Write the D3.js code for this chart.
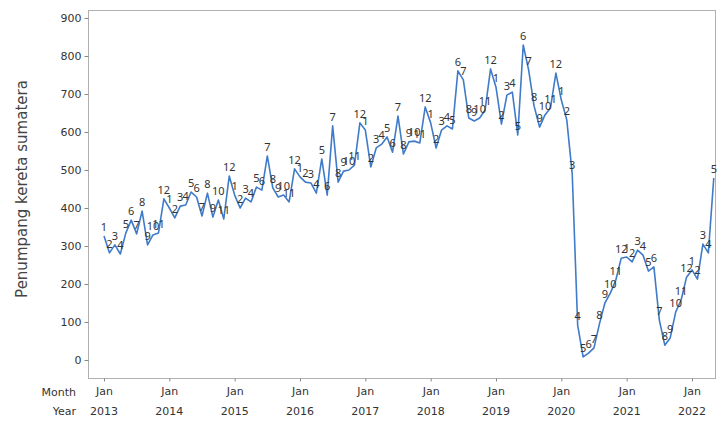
<!DOCTYPE html>
<html>
<head>
<meta charset="utf-8">
<script src="https://cdn.jsdelivr.net/npm/d3@7"></script>
<style>
  html, body { margin: 0; padding: 0; background: #fff; }
  svg { display: block; }
</style>
</head>
<body>
<svg id="chart" width="717" height="421"></svg>
<script>
// ---- data ----
const years = [2013, 2014, 2015, 2016, 2017, 2018, 2019, 2020, 2021, 2022];
const monthTick = "Jan";
const yTicks = [0, 100, 200, 300, 400, 500, 600, 700, 800, 900];
const values2013 = [326, 282, 303, 279, 334, 368, 332, 392, 303, 329, 334, 424];
const values2014 = [400, 374, 405, 408, 442, 429, 379, 439, 376, 421, 371, 484];
const values2015 = [434, 400, 426, 416, 455, 447, 537, 453, 429, 434, 416, 503];
const values2016 = [482, 468, 466, 439, 529, 434, 616, 468, 497, 500, 513, 624];
const values2017 = [605, 508, 558, 568, 587, 547, 642, 542, 574, 576, 571, 666];
const values2018 = [624, 558, 605, 616, 608, 761, 737, 637, 629, 637, 658, 766];
const values2019 = [718, 621, 697, 705, 592, 829, 763, 668, 613, 645, 663, 755];
const values2020 = [684, 632, 490, 92, 8, 18, 32, 95, 150, 176, 210, 268];
const values2021 = [271, 258, 289, 276, 234, 245, 105, 39, 58, 126, 158, 218];
const values2022 = [237, 213, 305, 282, 479];
const yTitle = "Penumpang kereta sumatera";

// ---- build series ----
const allValues = [].concat(values2013, values2014, values2015, values2016, values2017,
  values2018, values2019, values2020, values2021, values2022);
const data = allValues.map((v, i) => ({ i, month: (i % 12) + 1, v }));

const svg = d3.select("#chart");
const font = "'DejaVu Sans', sans-serif";
const labelFont = "'Noto Sans', sans-serif";

const box = { left: 88, top: 10, right: 716, bottom: 378 };
const x = d3.scaleLinear().domain([0, 108]).range([104, 692]);
const y = d3.scaleLinear().domain([0, 900]).range([360, 18]);

// frame
svg.append("rect")
  .attr("x", box.left + 0.5).attr("y", box.top + 0.5)
  .attr("width", box.right - box.left - 1).attr("height", box.bottom - box.top)
  .attr("fill", "none").attr("stroke", "#b0b0b0").attr("stroke-width", 1);

// y axis
const yAxis = svg.append("g")
  .attr("transform", `translate(${box.left + 0.5},0)`)
  .call(d3.axisLeft(y).tickValues(yTicks).tickSize(4).tickPadding(3));
yAxis.select(".domain").remove();
yAxis.selectAll(".tick line").attr("stroke", "#888");
yAxis.selectAll(".tick text").attr("fill", "#333").style("font-family", font).style("font-size", "11px");

// x axis (ticks at each January)
const janIdx = years.map((yr, k) => k * 12);
const xAxis = svg.append("g")
  .attr("transform", `translate(0,${box.bottom + 0.5})`)
  .call(d3.axisBottom(x).tickValues(janIdx).tickSize(3).tickFormat(() => monthTick).tickPadding(6));
xAxis.select(".domain").remove();
xAxis.selectAll(".tick line").attr("stroke", "#888");
xAxis.selectAll(".tick text").attr("fill", "#333").style("font-family", font).style("font-size", "11px");

// year labels
svg.append("g").selectAll("text").data(years).join("text")
  .attr("x", (d, k) => x(k * 12)).attr("y", 415)
  .attr("text-anchor", "middle")
  .attr("fill", "#333").style("font-family", font).style("font-size", "11px")
  .text(d => d);

svg.append("text").attr("x", 76).attr("y", 396).attr("text-anchor", "end")
  .attr("fill", "#333").style("font-family", font).style("font-size", "11px").text("Month");
svg.append("text").attr("x", 76).attr("y", 415).attr("text-anchor", "end")
  .attr("fill", "#333").style("font-family", font).style("font-size", "11px").text("Year");

// y title
svg.append("text")
  .attr("transform", `translate(27,${(18 + 360) / 2}) rotate(-90)`)
  .attr("text-anchor", "middle")
  .attr("fill", "#444").style("font-family", font).style("font-size", "15px")
  .text(yTitle);

// line
const line = d3.line().x(d => x(d.i)).y(d => y(d.v));
svg.append("path").datum(data)
  .attr("d", line)
  .attr("fill", "none").attr("stroke", "#3f7bc8").attr("stroke-width", 1.6)
  .attr("stroke-linejoin", "round");

// point labels (month numbers)
svg.append("g").selectAll("text").data(data).join("text")
  .attr("x", d => x(d.i)).attr("y", d => y(d.v) - 5)
  .attr("text-anchor", "middle")
  .attr("fill", "#333").style("font-family", labelFont).style("font-size", "11px")
  .text(d => d.month);
</script>
</body>
</html>
